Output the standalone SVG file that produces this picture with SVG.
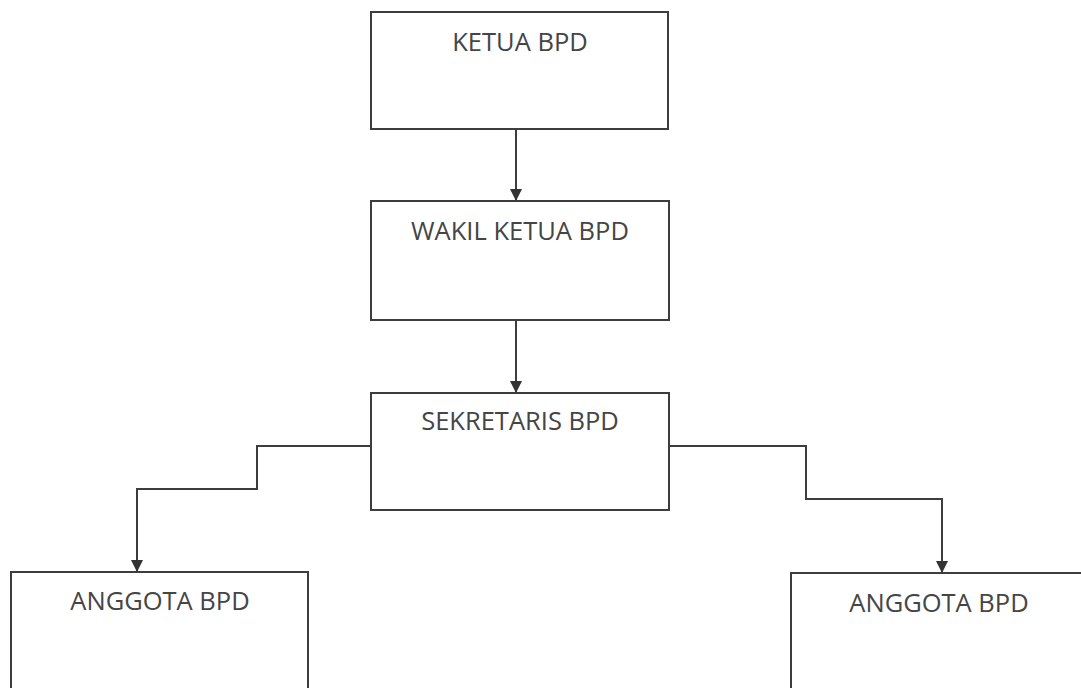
<svg xmlns="http://www.w3.org/2000/svg" width="1081" height="688" viewBox="0 0 1081 688">
<style>
.box{fill:#ffffff;stroke:#3d3d3d;stroke-width:2}
.lbl{font-family:"Open Sans","Liberation Sans",sans-serif;font-size:25.5px;fill:#454545;text-anchor:middle}
.con{fill:none;stroke:#3d3d3d;stroke-width:2}
</style>
<defs>
<marker id="arr" viewBox="0 0 12 12" refX="12" refY="6" markerWidth="12" markerHeight="12" markerUnits="userSpaceOnUse" orient="auto">
<path d="M0,0 L12,6 L0,12 Z" fill="#333333"/>
</marker>
</defs>
<rect width="1081" height="688" fill="#ffffff"/>
<g id="connectors">
<path class="con" d="M516,129 V201" marker-end="url(#arr)"/>
<path class="con" d="M516,320 V393" marker-end="url(#arr)"/>
<path class="con" d="M371,446 H257 V489 H137 V572" marker-end="url(#arr)"/>
<path class="con" d="M669,446 H806 V499 H942 V573" marker-end="url(#arr)"/>
</g>
<g id="ketua">
<rect class="box" x="371" y="12" width="297" height="117"/>
<text class="lbl" x="520" y="51">KETUA BPD</text>
</g>
<g id="wakil">
<rect class="box" x="371" y="201" width="298" height="119"/>
<text class="lbl" x="520" y="240">WAKIL KETUA BPD</text>
</g>
<g id="sekretaris">
<rect class="box" x="371" y="393" width="298" height="117"/>
<text class="lbl" x="520" y="430">SEKRETARIS BPD</text>
</g>
<g id="anggota-left">
<rect class="box" x="11" y="572" width="297" height="130"/>
<text class="lbl" x="160" y="610">ANGGOTA BPD</text>
</g>
<g id="anggota-right">
<rect class="box" x="791" y="573" width="300" height="130"/>
<text class="lbl" x="939" y="612">ANGGOTA BPD</text>
</g>
</svg>
